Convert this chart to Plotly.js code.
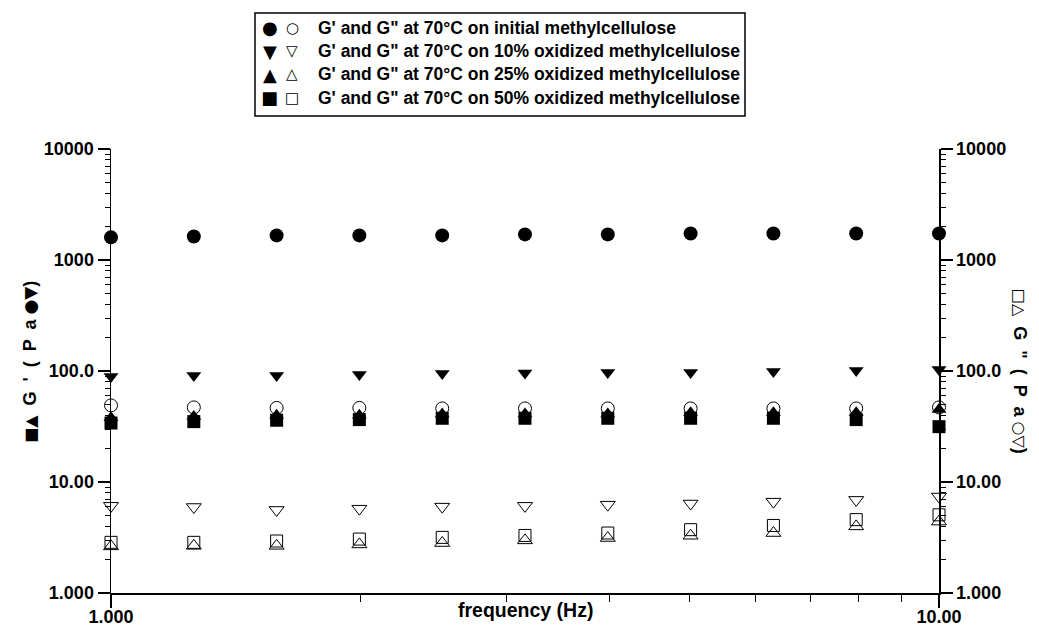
<!DOCTYPE html>
<html>
<head>
<meta charset="utf-8">
<script src="https://cdn.plot.ly/plotly-3.0.1.min.js"></script>
<style>html,body{margin:0;padding:0;background:#fff;}#chart{width:1039px;height:628px;}</style>
</head>
<body>
<div id="chart"></div>
<script>
// ---- data ----
const frequency = [1.000, 1.259, 1.585, 1.995, 2.512, 3.162, 3.981, 5.012, 6.310, 7.943, 10.00];

const gPrimeInitial  = [1600, 1630, 1665, 1665, 1665, 1700, 1700, 1735, 1735, 1735, 1735];
const gPrime10       = [89, 91, 91, 93, 95, 96, 97, 97, 99, 101, 103];
const gPrime25       = [38, 39, 40, 40, 41, 41, 41, 42, 42, 42, 45];
const gPrime50       = [34, 35, 36, 36.5, 37.5, 37.5, 37.5, 37.5, 37.5, 36.5, 31.5];

const gDoubleInitial = [49, 47, 46.5, 46.5, 46, 46, 46, 46, 46, 46, 47];
const gDouble10      = [6.1, 5.95, 5.6, 5.75, 6.0, 6.1, 6.25, 6.4, 6.65, 6.9, 7.4];
const gDouble25      = [2.63, 2.66, 2.66, 2.74, 2.82, 2.98, 3.13, 3.28, 3.47, 3.98, 4.4];
const gDouble50      = [2.86, 2.86, 2.94, 3.06, 3.17, 3.30, 3.47, 3.72, 4.06, 4.58, 5.06];

const yTickVals  = [1, 10, 100, 1000, 10000];
const yTickText  = ['1.000', '10.00', '100.0', '1000', '10000'];
const xTickVals  = [1, 10];
const xTickText  = ['1.000', '10.00'];

const legendFilled = ['●', '▼', '▲', '■'];
const legendOpen   = ['○', '▽', '△', '□'];
const legendLabels = [
  "G' and G\" at 70°C on initial methylcellulose",
  "G' and G\" at 70°C on 10% oxidized methylcellulose",
  "G' and G\" at 70°C on 25% oxidized methylcellulose",
  "G' and G\" at 70°C on 50% oxidized methylcellulose"
];

// ---- styling ----
const FONT = 'Arial, "Liberation Sans", sans-serif';
const SYMFONT = '"DejaVu Sans", sans-serif';
const BLACK = '#000000';

function yMinor(){
  const v = [];
  for (let d = 0; d < 4; d++) for (let m = 2; m <= 9; m++) v.push(m * Math.pow(10, d));
  return v;
}
const xMinor = [];
for (let m = 2; m <= 9; m++) xMinor.push(m);

function tr(y, axis, symbol, size, open){
  return {
    x: frequency, y: y, yaxis: axis, type: 'scatter', mode: 'markers', cliponaxis: false,
    hoverinfo: 'skip',
    marker: {
      symbol: symbol, size: size, color: BLACK,
      line: {color: BLACK, width: open ? 1 : 0}
    }
  };
}

const traces = [
  tr(gPrimeInitial, 'y', 'circle', 14, false),
  tr(gPrime10, 'y', 'triangle-down', 13, false),
  tr(gPrime25, 'y', 'triangle-up', 13, false),
  tr(gPrime50, 'y', 'square', 13, false),
  tr(gDoubleInitial, 'y2', 'circle-open', 13, true),
  tr(gDouble10, 'y2', 'triangle-down-open', 13, true),
  tr(gDouble25, 'y2', 'triangle-up-open', 13, true),
  tr(gDouble50, 'y2', 'square-open', 12, true)
];

const tickFont = {family: FONT, size: 18, color: BLACK, weight: 'bold'};

const yCommon = {
  type: 'log', range: [0, 4], showgrid: false, zeroline: false,
  showline: true, linecolor: BLACK, linewidth: 1.5,
  ticks: 'outside', ticklen: 12, tickwidth: 1.5, tickcolor: BLACK,
  tickmode: 'array', tickvals: yTickVals, ticktext: yTickText,
  tickfont: tickFont,
  minor: {tickmode: 'array', tickvals: yMinor(), ticks: 'outside', ticklen: 5, tickwidth: 1, tickcolor: BLACK, showgrid: false}
};

function sym(s, size){
  return '<span style="font-family:DejaVu Sans;font-size:' + size + 'px;font-weight:normal">' + s + '</span>';
}

const annotations = [];
const rowY = [1.2732, 1.2207, 1.1682, 1.1155];
legendLabels.forEach((t, i) => {
  annotations.push({
    xref: 'paper', yref: 'paper', x: 0.1920, y: rowY[i], xanchor: 'center', yanchor: 'middle',
    showarrow: false, text: legendFilled[i], font: {family: SYMFONT, size: 18, color: BLACK}
  });
  annotations.push({
    xref: 'paper', yref: 'paper', x: 0.2186, y: rowY[i], xanchor: 'center', yanchor: 'middle',
    showarrow: false, text: legendOpen[i], font: {family: SYMFONT, size: 15, color: BLACK}
  });
  annotations.push({
    xref: 'paper', yref: 'paper', x: 0.2476, y: rowY[i],
    xanchor: 'left', yanchor: 'middle', showarrow: false, align: 'left',
    text: t, font: {family: FONT, size: 17.5, color: BLACK, weight: 'bold'}
  });
});
annotations.push({
  xref: 'paper', yref: 'paper', x: 0.5, y: -0.038, xanchor: 'center', yanchor: 'middle',
  showarrow: false, text: 'frequency (Hz)', font: {family: FONT, size: 19.5, color: BLACK, weight: 'bold'}
});
annotations.push({
  xref: 'paper', yref: 'paper', x: -0.098, y: 0.52, xanchor: 'center', yanchor: 'middle',
  showarrow: false, textangle: -90,
  text: sym('■▲', 16) + "  G  '  (  P  a " + sym('●▼', 17) + ')',
  font: {family: FONT, size: 18, color: BLACK, weight: 'bold'}
});
annotations.push({
  xref: 'paper', yref: 'paper', x: 1.098, y: 0.50, xanchor: 'center', yanchor: 'middle',
  showarrow: false, textangle: 90,
  text: sym('□△', 16) + '  G  "  (  P  a ' + sym('○▽', 16) + ')',
  font: {family: FONT, size: 18, color: BLACK, weight: 'bold'}
});

const layout = {
  width: 1039, height: 628,
  margin: {l: 111, r: 100, t: 149, b: 35, pad: 0},
  paper_bgcolor: '#ffffff', plot_bgcolor: '#ffffff',
  showlegend: false,
  font: {family: FONT, color: BLACK},
  xaxis: {
    type: 'log', range: [0, 1], showgrid: false, zeroline: false,
    showline: true, linecolor: BLACK, linewidth: 1.5,
    ticks: 'outside', ticklen: 13, tickwidth: 1.5, tickcolor: BLACK,
    tickmode: 'array', tickvals: xTickVals, ticktext: xTickText,
    tickfont: tickFont, ticklabelstandoff: -6,
    minor: {tickmode: 'array', tickvals: xMinor, ticks: 'outside', ticklen: 7, tickwidth: 1, tickcolor: BLACK, showgrid: false}
  },
  yaxis: Object.assign({}, yCommon, {side: 'left'}),
  yaxis2: Object.assign({}, yCommon, {side: 'right', overlaying: 'y'}),
  shapes: [{
    type: 'rect', xref: 'paper', yref: 'paper',
    x0: 0.1739, x1: 0.7657, y0: 1.0743, y1: 1.3063,
    line: {color: BLACK, width: 1.5}, fillcolor: 'rgba(0,0,0,0)'
  }],
  annotations: annotations
};

Plotly.newPlot('chart', traces, layout, {staticPlot: true, displayModeBar: false});
</script>
</body>
</html>
